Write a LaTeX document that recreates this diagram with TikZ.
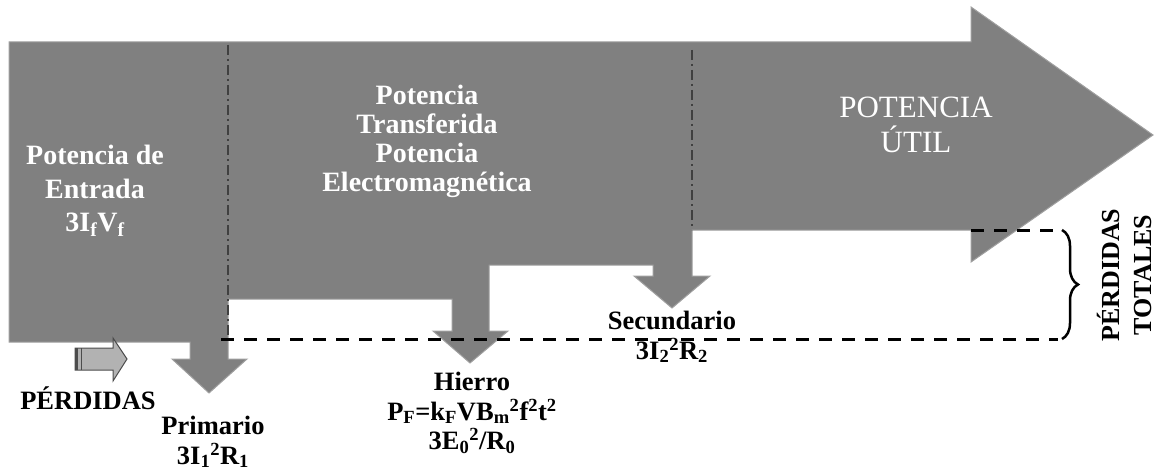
\documentclass[tikz,border=0pt]{standalone}
\usepackage{fontspec}
\setmainfont{Liberation Serif}
\usepackage{tikz}
\usetikzlibrary{positioning, decorations.pathreplacing}

\begin{document}
\begin{tikzpicture}[
    x=1pt, y=-1pt,
    flow/.style={fill=flowgray, draw=gray!75, line width=1pt},
    sepline/.style={draw=black!75, line width=2pt, dash pattern=on 10pt off 4pt on 2pt off 4pt},
    lossline/.style={draw=black, line width=3pt, dash pattern=on 13pt off 10pt},
    inlabel/.style={text=white, align=center, font=\fontsize{28}{29}\selectfont\bfseries},
    outlabel/.style={text=black, align=center, font=\fontsize{26.5}{29.5}\selectfont\bfseries},
    smallarrow/.style={fill=gray!60, draw=black!70, line width=1pt}
]
    \definecolor{flowgray}{RGB}{128,128,128}
    \useasboundingbox (0,0) rectangle (1158,476);

    % power flow with the three loss arrows
    \path[flow] (9,42) -- (971,42) -- (971,7) -- (1153,135) -- (971,262) -- (971,230)
        -- (692,230) -- (692,276) -- (710,276) -- (672,308) -- (634,276) -- (653,276)
        -- (653,265) -- (489,265) -- (489,331) -- (508,331) -- (470,363) -- (433,331)
        -- (452,331) -- (452,299) -- (228,299) -- (228,359) -- (247,359) -- (209,393)
        -- (172,359) -- (190,359) -- (190,342) -- (9,342) -- cycle;

    % stage borders
    \draw[sepline] (228,45) -- (228,338);
    \draw[sepline] (692,50) -- (692,230);

    % total losses
    \coordinate (lossA) at (971,230);
    \coordinate (lossB) at (1057,230);
    \coordinate (lossC) at (221,339);
    \coordinate (lossD) at (1058,339);
    \draw[lossline] (lossA) -- (lossB);
    \draw[lossline] (lossC) -- (lossD);
    \draw[line width=2.5pt, decorate, decoration={brace, amplitude=16pt}] (1062,230) -- (1062,339);

    % legend arrow
    \path[smallarrow] (75,348) -- (113,348) -- (113,338) -- (127,359) -- (113,381)
        -- (113,370) -- (75,370) -- cycle;
    \fill[black!70] (75,348) rectangle (78,370);
    \draw[black!70, line width=1.5pt] (81.5,348) -- (81.5,370);

    \node[inlabel, font=\fontsize{28}{33.5}\selectfont\bfseries] (entrada) at (95,191) {Potencia de\\Entrada\\3I\textsubscript{f}V\textsubscript{f}};
    \node[inlabel] (transf) at (427,141) {Potencia\\Transferida\\Potencia\\Electromagnética};
    \node[text=white, align=center, font=\fontsize{31}{35}\selectfont] (util) at (916,125) {POTENCIA\\ÚTIL};

    \node[outlabel] (perdidas) at (88,398) {PÉRDIDAS};
    \node[outlabel] (primario) at (213,442) {Primario\\3I\textsubscript{1}\textsuperscript{2}R\textsubscript{1}};
    \node[outlabel] (hierro) at (472,413) {Hierro\\P\textsubscript{F}=k\textsubscript{F}VB\textsubscript{m}\textsuperscript{2}f\textsuperscript{2}t\textsuperscript{2}\\3E\textsubscript{0}\textsuperscript{2}/R\textsubscript{0}};
    \node[outlabel] (secundario) at (672,337) {Secundario\\3I\textsubscript{2}\textsuperscript{2}R\textsubscript{2}};
    \node[outlabel, rotate=90, inner sep=0pt, font=\fontsize{26}{32}\selectfont\bfseries] (totales) at (1124,275) {PÉRDIDAS\\TOTALES};
\end{tikzpicture}
\end{document}
